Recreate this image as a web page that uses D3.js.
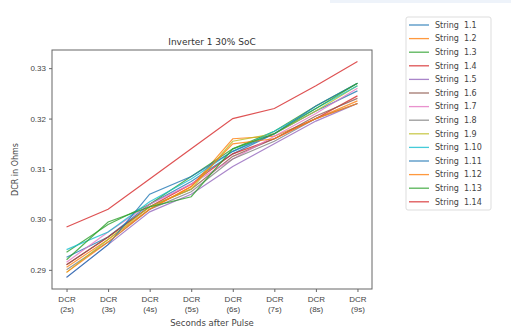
<!DOCTYPE html>
<html lang="en">
<head>
<meta charset="UTF-8">
<title>Inverter 1 30% SoC</title>
<script src="https://d3js.org/d3.v7.min.js"></script>
<style>
    body { margin: 0; background: #fff; }
    svg { display: block; font-family: "DejaVu Sans", sans-serif; }
    .tick text, .tick tspan { fill: #444; font-size: 8px; }
    .tick line, .domain { stroke: #666; }
</style>
</head>
<body>
<svg id="canvas" width="511" height="334"></svg>
<script>
    // categories on the x axis
    let tickLabels = ["2s", "3s", "4s", "5s", "6s", "7s", "8s", "9s"];
    let yTicks = [0.29, 0.30, 0.31, 0.32, 0.33];
    let stringNames = ["String  1.1", "String  1.2", "String  1.3", "String  1.4", "String  1.5",
        "String  1.6", "String  1.7", "String  1.8", "String  1.9", "String  1.10",
        "String  1.11", "String  1.12", "String  1.13", "String  1.14"];
    let colors = ["#1f77b4", "#ff7f0e", "#2ca02c", "#d62728", "#9467bd", "#8c564b", "#e377c2",
        "#7f7f7f", "#bcbd22", "#17becf", "#1f77b4", "#ff7f0e", "#2ca02c", "#d62728"];

    // DCR values per string
    let s1_1  = [0.2925, 0.2965, 0.3030, 0.3075, 0.3130, 0.3170, 0.3215, 0.3255];
    let s1_2  = [0.2905, 0.2960, 0.3020, 0.3065, 0.3160, 0.3165, 0.3200, 0.3235];
    let s1_3  = [0.2935, 0.2990, 0.3030, 0.3085, 0.3140, 0.3175, 0.3225, 0.3270];
    let s1_4  = [0.2910, 0.2965, 0.3025, 0.3070, 0.3130, 0.3160, 0.3200, 0.3245];
    let s1_5  = [0.2885, 0.2950, 0.3015, 0.3050, 0.3105, 0.3150, 0.3195, 0.3230];
    let s1_6  = [0.2910, 0.2965, 0.3025, 0.3060, 0.3125, 0.3160, 0.3205, 0.3240];
    let s1_7  = [0.2915, 0.2975, 0.3030, 0.3070, 0.3120, 0.3165, 0.3210, 0.3260];
    let s1_8  = [0.2900, 0.2955, 0.3020, 0.3055, 0.3120, 0.3155, 0.3200, 0.3230];
    let s1_9  = [0.2895, 0.2960, 0.3025, 0.3060, 0.3155, 0.3170, 0.3215, 0.3265];
    let s1_10 = [0.2940, 0.2975, 0.3035, 0.3080, 0.3135, 0.3175, 0.3220, 0.3265];
    let s1_11 = [0.2885, 0.2950, 0.3050, 0.3085, 0.3135, 0.3170, 0.3225, 0.3270];
    let s1_12 = [0.2895, 0.2955, 0.3020, 0.3065, 0.3150, 0.3160, 0.3200, 0.3230];
    let s1_13 = [0.2920, 0.2995, 0.3025, 0.3045, 0.3140, 0.3170, 0.3220, 0.3270];
    let s1_14 = [0.2985, 0.3020, 0.3080, 0.3140, 0.3200, 0.3220, 0.3265, 0.3313];
    let series = [s1_1, s1_2, s1_3, s1_4, s1_5, s1_6, s1_7, s1_8, s1_9, s1_10, s1_11, s1_12, s1_13, s1_14];

    let svg = d3.select('svg');

    // faint strip at the top (screenshot edge)
    svg.append('rect').attr('x', 330).attr('y', 0).attr('width', 181).attr('height', 3)
        .attr('fill', '#eef3fa');

    let plotLeft = 52, plotRight = 372, plotTop = 50, plotBottom = 289;

    let x = d3.scalePoint().domain(tickLabels).range([plotLeft, plotRight]).padding(0.35);
    let y = d3.scaleLinear().domain([0.2862, 0.3336]).range([plotBottom, plotTop]);

    // frame
    svg.append('rect').attr('x', plotLeft).attr('y', plotTop)
        .attr('width', plotRight - plotLeft).attr('height', plotBottom - plotTop)
        .attr('fill', 'none').attr('stroke', '#666').attr('stroke-width', 1);

    let xAxis = svg.append('g').attr('transform', `translate(0,${plotBottom})`)
        .call(d3.axisBottom(x).tickSize(3).tickPadding(4).tickFormat(() => ''));
    xAxis.select('.domain').remove();
    xAxis.selectAll('.tick').each(function (d) {
        let t = d3.select(this).select('text');
        t.append('tspan').attr('x', 0).attr('dy', '0.71em').text('DCR');
        t.append('tspan').attr('x', 0).attr('dy', '1.35em').text('(' + d + ')');
    });

    let yAxis = svg.append('g').attr('transform', `translate(${plotLeft},0)`)
        .call(d3.axisLeft(y).tickValues(yTicks).tickSize(3).tickPadding(3).tickFormat(d3.format('.2f')));
    yAxis.select('.domain').remove();

    // lines
    let line = d3.line().x((d, i) => x(tickLabels[i])).y(d => y(d));
    svg.append('g').selectAll('path')
        .data(series)
        .enter()
        .append('path')
        .attr('d', line)
        .attr('fill', 'none')
        .attr('stroke', (d, i) => colors[i])
        .attr('stroke-opacity', 0.8)
        .attr('stroke-width', 1.2);

    // title and labels
    svg.append('text').attr('x', (plotLeft + plotRight) / 2).attr('y', 45)
        .attr('text-anchor', 'middle').attr('font-size', 9).attr('fill', '#333')
        .text('Inverter 1 30% SoC');
    svg.append('text').attr('x', (plotLeft + plotRight) / 2).attr('y', 326)
        .attr('text-anchor', 'middle').attr('font-size', 8.5).attr('fill', '#444')
        .text('Seconds after Pulse');
    svg.append('text').attr('transform', `translate(18,${(plotTop + plotBottom) / 2}) rotate(-90)`)
        .attr('text-anchor', 'middle').attr('font-size', 8).attr('fill', '#444')
        .text('DCR in Ohms');

    // legend
    let legend = svg.append('g');
    legend.append('rect').attr('x', 406).attr('y', 17).attr('width', 85).attr('height', 193)
        .attr('rx', 2).attr('fill', '#fff').attr('stroke', '#ddd');
    let item = legend.selectAll('g.item')
        .data(stringNames)
        .enter()
        .append('g')
        .attr('class', 'item')
        .attr('transform', (d, i) => `translate(0,${25 + i * 13.6})`);
    item.append('line').attr('x1', 409).attr('x2', 429)
        .attr('stroke', (d, i) => colors[i]).attr('stroke-opacity', 0.8).attr('stroke-width', 1.3);
    item.append('text').attr('x', 435).attr('dy', '0.35em')
        .attr('font-size', 8).attr('fill', '#444')
        .attr('xml:space', 'preserve').style('white-space', 'pre')
        .text(d => d);
</script>
</body>
</html>
